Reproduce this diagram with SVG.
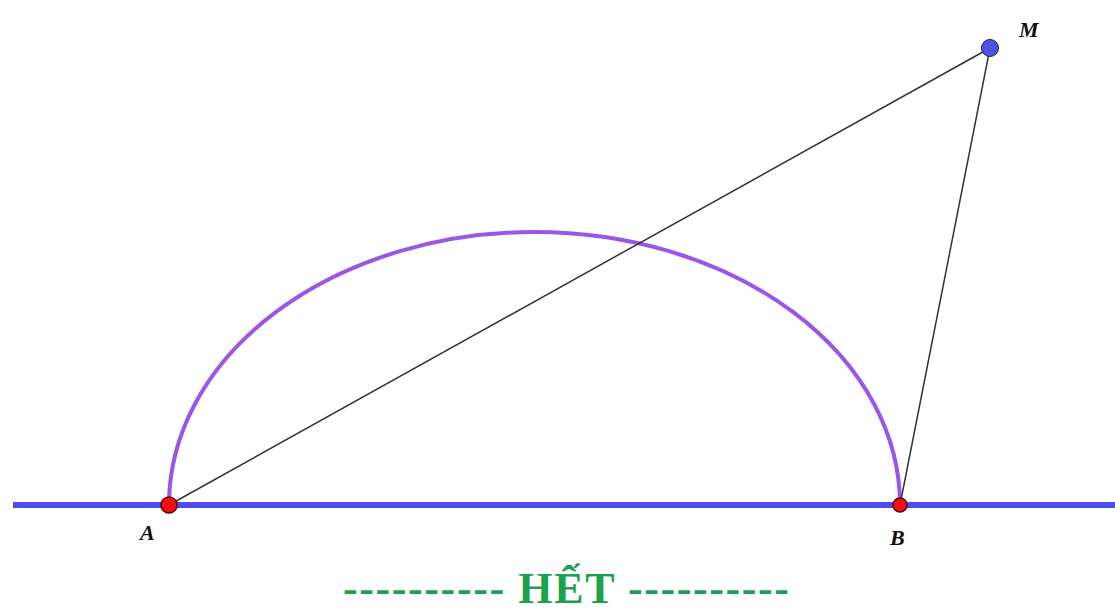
<svg xmlns="http://www.w3.org/2000/svg" width="1115" height="613" viewBox="0 0 1115 613">
<style>
.seg{stroke:#333;stroke-width:1.5;fill:none}
.lbl{font-family:"Liberation Serif",serif;font-style:italic;font-weight:bold;font-size:22px;fill:#111}
.pt{stroke:#600;stroke-width:1.5}
</style>
<rect width="1115" height="613" fill="#fff"/>
<g id="line-base"><line x1="13" y1="505" x2="1115" y2="505" stroke="#4a4ef0" stroke-width="6"/></g>
<g id="arc"><path d="M169,505 A365.5,273 0 0 1 900,505" fill="none" stroke="#9b55e8" stroke-width="4"/></g>
<g id="connectors">
<line class="seg" x1="169" y1="505" x2="990" y2="48"/>
<line class="seg" x1="900" y1="505" x2="990" y2="48"/>
</g>
<g id="A"><circle class="pt" cx="169" cy="505" r="8" fill="#ee1111"/><text class="lbl" x="140" y="540">A</text></g>
<g id="B"><circle class="pt" cx="900" cy="505" r="7" fill="#ee1111"/><text class="lbl" x="890" y="545">B</text></g>
<g id="M"><circle cx="990" cy="48" r="8.5" fill="#4a55e8" stroke="#223" stroke-width="1"/><text class="lbl" x="1019" y="37">M</text></g>
<text x="566" y="603" text-anchor="middle" font-family="Liberation Serif,serif" font-weight="bold" font-size="44" fill="#1ca24e" textLength="446" lengthAdjust="spacing">---------- HẾT ----------</text>
</svg>
